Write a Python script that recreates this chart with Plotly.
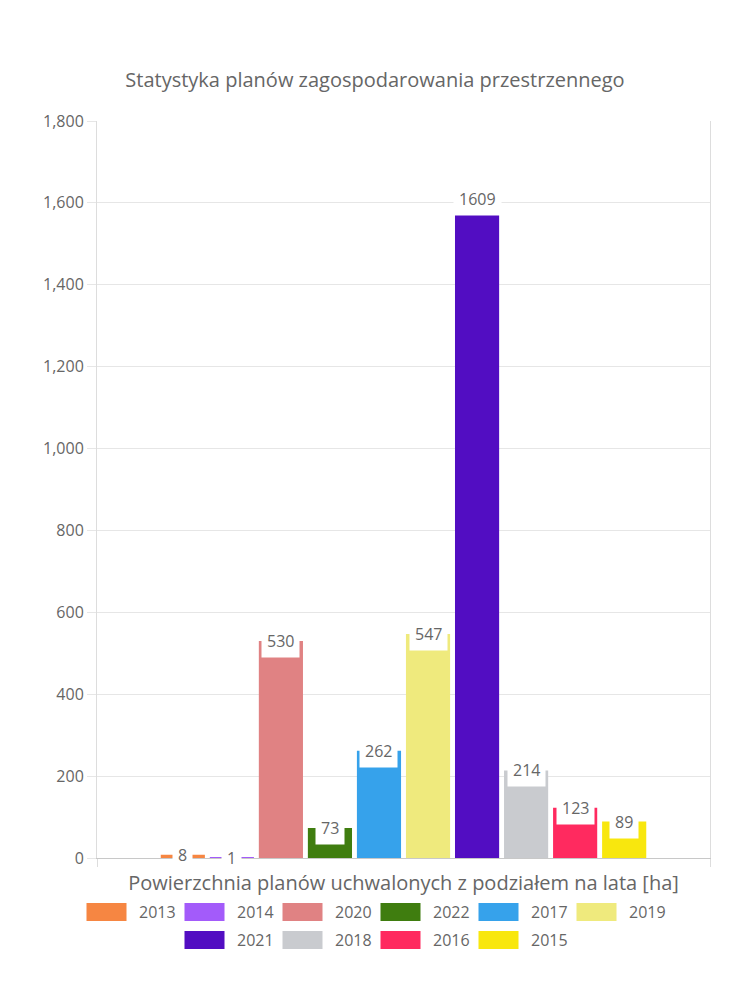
import plotly.graph_objects as go

# ---- data ----
category = "Powierzchnia planów uchwalonych z podziałem na lata [ha]"
years = ["2013", "2014", "2020", "2022", "2017", "2019", "2021", "2018", "2016", "2015"]
values = [8, 1, 530, 73, 262, 547, 1609, 214, 123, 89]
colors = ["#F68642", "#A35BFA", "#E08283", "#3F7D0F", "#36A2EB",
          "#EFEA7D", "#520DC2", "#C9CBCF", "#FF2A5F", "#F8E70E"]
title_text = "Statystyka planów zagospodarowania przestrzennego"

FONT = "Open Sans"
TXT = "#666666"

# ---- layout geometry (pixels) ----
W, H = 750, 1000
ML, MR, MT, MB = 97, 40, 121, 142
PW, PH = W - ML - MR, H - MT - MB


def px_x(px):
    return (px - ML) / PW


def px_y(py):
    return (H - MB - py) / PH


bargap, bargroupgap = 0.2, 0.1
n = len(years)

fig = go.Figure()
for yr, v, c in zip(years, values, colors):
    fig.add_trace(go.Bar(x=[category], y=[v], name=yr, marker_color=c,
                         marker_line_width=0, showlegend=False))

# value labels with white box, centred on each bar top
slot = (1 - bargap) / n
for i, v in enumerate(values):
    xc = -(1 - bargap) / 2 + slot * (i + 0.5)
    fig.add_annotation(x=xc, y=v, xref="x", yref="y", text=str(v),
                       showarrow=False, xanchor="center", yanchor="middle",
                       bgcolor="white", borderpad=5,
                       font=dict(family=FONT, size=16, color=TXT))

# custom legend (wide swatches, two centred rows)
rows = [years[:6], years[6:]]
row_cy = [912, 940]
pitch, sw_w, sw_h, gap = 98, 40, 18, 10
item_w = sw_w + gap + 37
for r, (row, cy) in enumerate(zip(rows, row_cy)):
    total = (len(row) - 1) * pitch + item_w
    start = W / 2 - total / 2
    for j, yr in enumerate(row):
        k = years.index(yr)
        x0 = start + j * pitch
        fig.add_shape(type="rect", xref="paper", yref="paper",
                      x0=px_x(x0), x1=px_x(x0 + sw_w),
                      y0=px_y(cy + sw_h / 2), y1=px_y(cy - sw_h / 2),
                      fillcolor=colors[k], line_width=0)
        fig.add_annotation(x=px_x(x0 + sw_w + gap), y=px_y(cy), xref="paper", yref="paper",
                           text=yr, showarrow=False, xanchor="left", yanchor="middle",
                           font=dict(family=FONT, size=16, color=TXT))

fig.update_layout(
    width=W, height=H,
    margin=dict(l=ML, r=MR, t=MT, b=MB, autoexpand=False),
    paper_bgcolor="white", plot_bgcolor="white",
    barmode="group", bargap=bargap, bargroupgap=bargroupgap,
    title=dict(text=title_text, x=0.5, xanchor="center", xref="container",
               y=1 - 80 / H, yanchor="middle", yref="container",
               font=dict(family=FONT, size=20, color=TXT)),
    font=dict(family=FONT, color=TXT),
    xaxis=dict(type="category", showgrid=False, showline=True, linecolor="#c8c8c8",
               linewidth=1, ticks="outside", tickson="boundaries", ticklen=8,
               tickcolor="#dddddd", ticklabelstandoff=7,
               tickfont=dict(family=FONT, size=20, color=TXT)),
    yaxis=dict(range=[0, 1800], dtick=200, tickformat=",", showgrid=True,
               gridcolor="#e6e6e6", showline=True, mirror=True, linecolor="#dddddd",
               ticks="outside", ticklen=9, tickcolor="#e6e6e6", zeroline=False,
               tickfont=dict(family=FONT, size=16, color=TXT)),
)

fig.write_html("out.html")
